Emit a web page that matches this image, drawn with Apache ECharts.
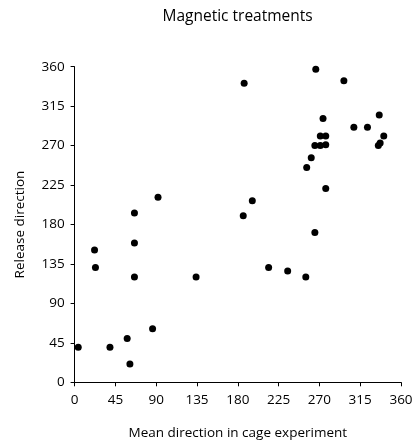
<!DOCTYPE html>
<html>
<head>
<meta charset="utf-8">
<script src="https://cdn.jsdelivr.net/npm/echarts@6/dist/echarts.min.js"></script>
<style>
  html, body { margin: 0; padding: 0; background: #fff; }
  #chart { width: 414px; height: 442px; }
</style>
</head>
<body>
<div id="chart"></div>
<script>
// mean direction in cage (x) vs release direction (y), degrees
const cageDir = [
  4, 39, 58, 61, 86, 22, 23, 66, 66, 66, 134, 92,
  186, 265, 214, 235, 255, 187, 266, 297, 274, 308,
  323, 336, 341, 337, 335, 271, 277, 265, 271, 277,
  261, 256, 277, 196,
];
const releaseDir = [
  40, 40, 50, 21, 61, 151, 131, 120, 159, 193, 120, 211,
  190, 171, 131, 127, 120, 341, 357, 344, 301, 291,
  291, 305, 281, 273, 270, 281, 281, 270, 270, 271,
  256, 245, 221, 207,
];
const ticks = [0, 45, 90, 135, 180, 225, 270, 315, 360];

const points = cageDir.map((x, i) => [x, releaseDir[i]]);

const font = 'Open Sans';
const chart = echarts.init(document.getElementById('chart'));

const axisCommon = {
  type: 'value',
  min: ticks[0],
  max: ticks[ticks.length - 1],
  interval: 45,
  splitLine: { show: false },
  axisLine: { show: true, onZero: false, lineStyle: { color: '#000', width: 1 } },
  axisTick: { show: true, length: 4, lineStyle: { color: '#000' } },
  axisLabel: { color: '#000', fontFamily: font, fontSize: 13.5 },
  nameLocation: 'middle',
  nameTextStyle: { color: '#000', fontFamily: font, fontSize: 13.5 },
};

chart.setOption({
  animation: false,
  title: {
    text: 'Magnetic treatments',
    left: 237.6,
    top: 9,
    padding: 0,
    textAlign: 'center',
    textStyle: { color: '#000', fontFamily: font, fontSize: 15.5, fontWeight: 'normal' },
  },
  grid: {
    left: 74.6, right: 13, top: 66.7, bottom: 59.7,
    containLabel: false,
    outerBoundsMode: 'none',
  },
  xAxis: {
    ...axisCommon,
    name: 'Mean direction in cage experiment',
    nameGap: 44,
    axisLabel: { ...axisCommon.axisLabel, margin: 11 },
  },
  yAxis: {
    ...axisCommon,
    name: 'Release direction',
    nameGap: 47,
    axisLabel: { ...axisCommon.axisLabel, margin: 10 },
  },
  series: [
    {
      type: 'scatter',
      data: points,
      symbol: 'circle',
      symbolSize: 7,
      itemStyle: { color: '#000', opacity: 1 },
    },
  ],
});
</script>
</body>
</html>
